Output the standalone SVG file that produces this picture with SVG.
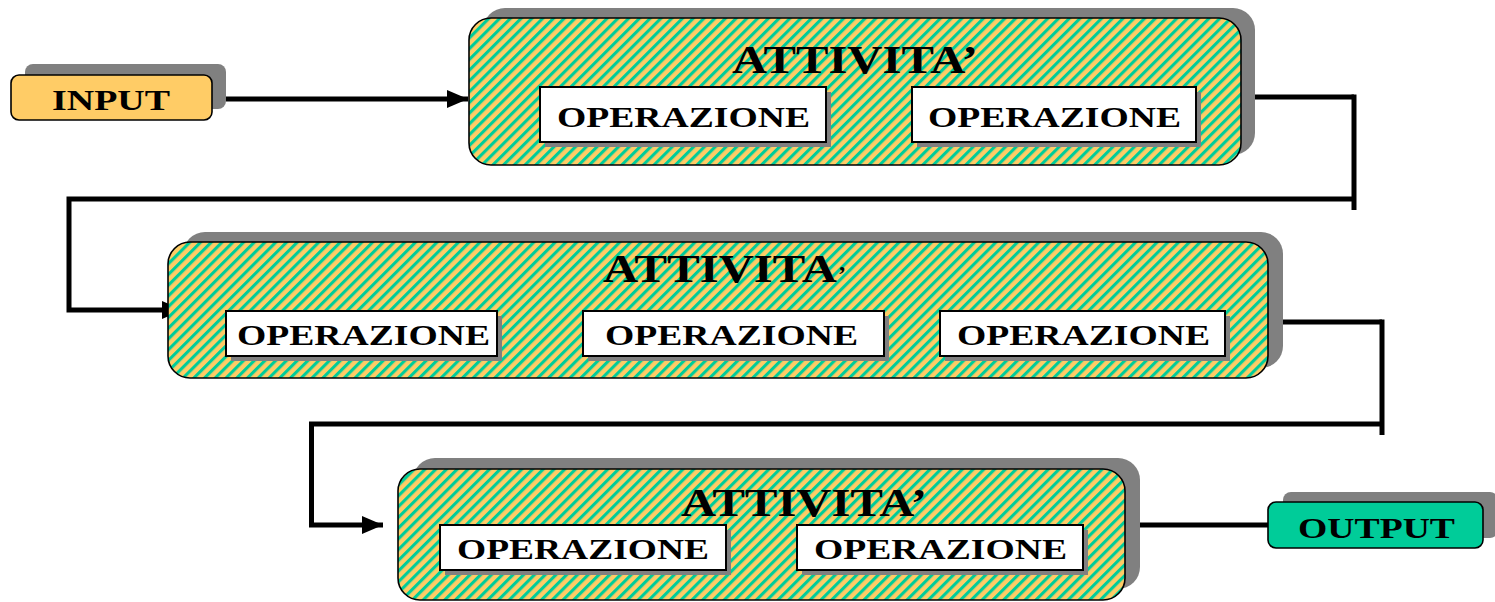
<svg xmlns="http://www.w3.org/2000/svg" width="1495" height="602" viewBox="0 0 1495 602">
<style>
.shadow{fill:#808080}
.act{fill:url(#hatch);stroke:#000;stroke-width:1.6}
.op{fill:#fff;stroke:#000;stroke-width:2}
.opsh{fill:#808080}
.t{font-family:"Liberation Serif","Times New Roman",serif;font-weight:bold;fill:#000}
.title{font-size:41px}
.opt{font-size:29px}
.conn{fill:none;stroke:#000;stroke-width:5}
</style>
<defs>
<pattern id="hatch" patternUnits="userSpaceOnUse" width="7.6" height="20" patternTransform="rotate(45)">
<rect width="7.6" height="20" fill="#FFCC66"/>
<rect width="3.1" height="20" fill="#00CC99"/>
</pattern>
<marker id="arr" markerUnits="userSpaceOnUse" markerWidth="22" markerHeight="18" refX="21" refY="9" orient="auto">
<path d="M0,0 L21,9 L0,18 Z" fill="#000"/>
</marker>
</defs>

<g id="connectors">
<path class="conn" d="M226,99 H468" marker-end="url(#arr)"/>
<path class="conn" d="M1254,97 H1354"/>
<path class="conn" d="M1354,94.5 V210"/>
<path class="conn" d="M1354,199 H69 V310 H183" marker-end="url(#arr)"/>
<path class="conn" d="M1283,322 H1382"/>
<path class="conn" d="M1382,319.5 V435"/>
<path class="conn" d="M1382,424 H311.5 V525 H383" marker-end="url(#arr)"/>
<path class="conn" d="M1140,525 H1268"/>
</g>

<g id="input">
<rect class="shadow" x="25" y="64" width="201" height="45" rx="8"/>
<rect x="11" y="75" width="201" height="45" rx="8" fill="#FFCC66" stroke="#000" stroke-width="1.6"/>
<text class="t opt" x="52" y="110" textLength="118" lengthAdjust="spacingAndGlyphs">INPUT</text>
</g>

<g id="activity1">
<rect class="shadow" x="483" y="8" width="772" height="147" rx="22"/>
<rect class="act" x="469" y="18" width="772" height="147" rx="22"/>
<text class="t title" x="732" y="73" textLength="246" lengthAdjust="spacingAndGlyphs">ATTIVITA’</text>
<g id="op1a">
<rect class="opsh" x="545" y="92" width="286" height="55"/>
<rect class="op" x="540" y="87" width="286" height="55"/>
<text class="t opt" x="557" y="127" textLength="253" lengthAdjust="spacingAndGlyphs">OPERAZIONE</text>
</g>
<g id="op1b">
<rect class="opsh" x="917" y="92" width="284" height="55"/>
<rect class="op" x="912" y="87" width="284" height="55"/>
<text class="t opt" x="928" y="127" textLength="253" lengthAdjust="spacingAndGlyphs">OPERAZIONE</text>
</g>
</g>

<g id="activity2">
<rect class="shadow" x="183" y="232" width="1100" height="136" rx="22"/>
<rect class="act" x="168" y="242" width="1100" height="136" rx="22"/>
<text class="t title" x="603" y="282" textLength="234" lengthAdjust="spacingAndGlyphs">ATTIVITA</text>
<text class="t" x="838" y="282" font-size="24">’</text>
<g id="op2a">
<rect class="opsh" x="231" y="316" width="271" height="45"/>
<rect class="op" x="226" y="311" width="271" height="45"/>
<text class="t opt" x="237" y="345" textLength="253" lengthAdjust="spacingAndGlyphs">OPERAZIONE</text>
</g>
<g id="op2b">
<rect class="opsh" x="588" y="316" width="301" height="45"/>
<rect class="op" x="583" y="311" width="301" height="45"/>
<text class="t opt" x="605" y="345" textLength="253" lengthAdjust="spacingAndGlyphs">OPERAZIONE</text>
</g>
<g id="op2c">
<rect class="opsh" x="945" y="316" width="285" height="45"/>
<rect class="op" x="940" y="311" width="285" height="45"/>
<text class="t opt" x="957" y="345" textLength="253" lengthAdjust="spacingAndGlyphs">OPERAZIONE</text>
</g>
</g>

<g id="activity3">
<rect class="shadow" x="413" y="458" width="727" height="131" rx="22"/>
<rect class="act" x="398" y="469" width="727" height="131" rx="22"/>
<text class="t title" x="681" y="516" textLength="246" lengthAdjust="spacingAndGlyphs">ATTIVITA’</text>
<g id="op3a">
<rect class="opsh" x="445" y="530" width="286" height="45"/>
<rect class="op" x="440" y="525" width="286" height="45"/>
<text class="t opt" x="457" y="559" textLength="252" lengthAdjust="spacingAndGlyphs">OPERAZIONE</text>
</g>
<g id="op3b">
<rect class="opsh" x="802" y="530" width="286" height="45"/>
<rect class="op" x="797" y="525" width="286" height="45"/>
<text class="t opt" x="814" y="559" textLength="253" lengthAdjust="spacingAndGlyphs">OPERAZIONE</text>
</g>
</g>

<g id="output">
<rect class="shadow" x="1283" y="492" width="215" height="46" rx="8"/>
<rect x="1268" y="502" width="215" height="46" rx="8" fill="#00CC99" stroke="#000" stroke-width="1.6"/>
<text class="t opt" x="1298" y="538" textLength="157" lengthAdjust="spacingAndGlyphs">OUTPUT</text>
</g>
</svg>
